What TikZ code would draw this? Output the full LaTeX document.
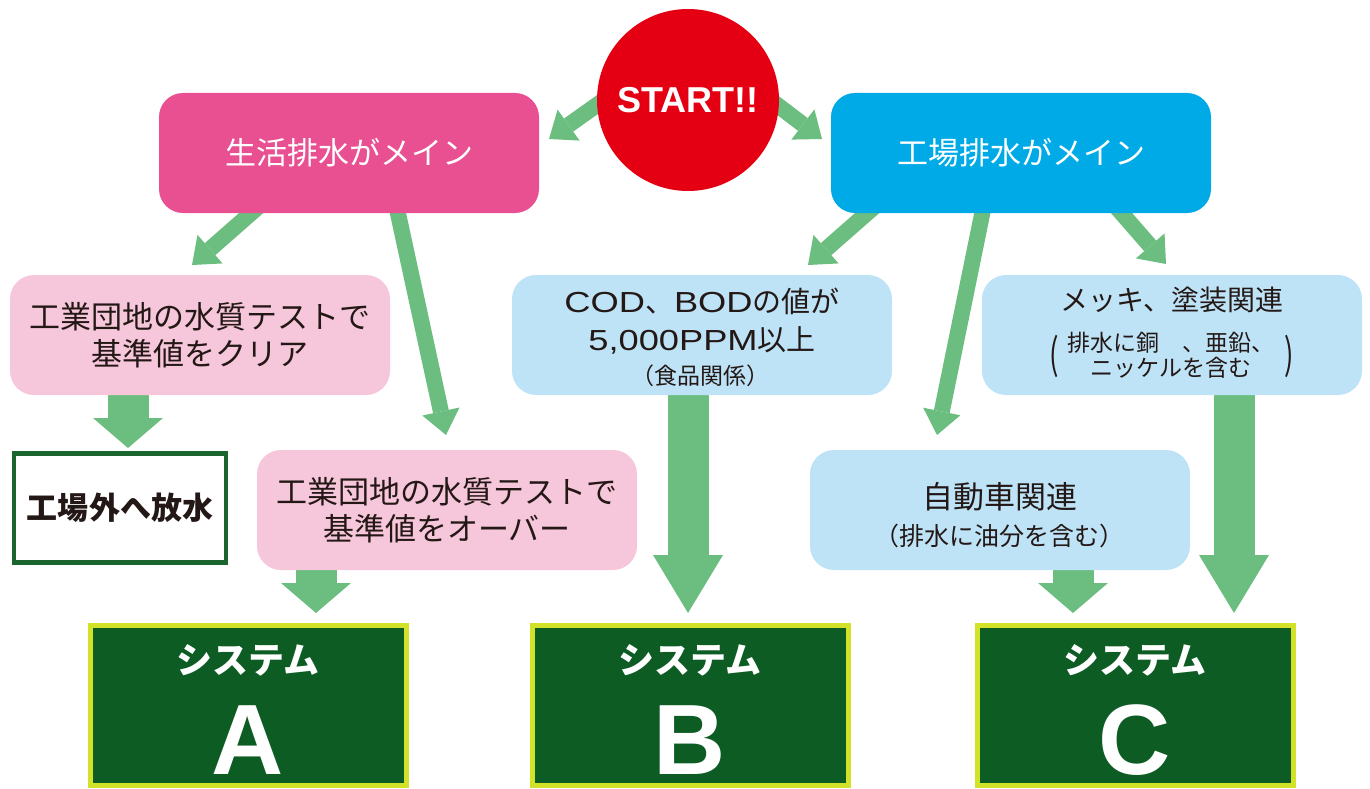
\documentclass[tikz,border=0pt]{standalone}
\usepackage{fontspec}
\setmainfont{Noto Sans CJK JP}
\newfontfamily\lsans{Liberation Sans}
\usetikzlibrary{arrows.meta}
\pgfdeclarelayer{bg}
\pgfsetlayers{bg,main}
\definecolor{agreen}{RGB}{108,190,128}
\definecolor{hpink}{RGB}{232,80,145}
\definecolor{hblue}{RGB}{0,170,231}
\definecolor{lpink}{RGB}{246,198,218}
\definecolor{lblue}{RGB}{190,227,247}
\definecolor{sred}{RGB}{228,0,18}
\definecolor{sysgreen}{RGB}{12,92,36}
\definecolor{syslime}{RGB}{210,226,40}
\definecolor{obord}{RGB}{26,100,45}
\definecolor{dtext}{RGB}{35,24,21}
\newcommand{\wlat}[1]{\scalebox{1.25}[1]{\lsans #1}}
\begin{document}
\begin{tikzpicture}[x=1pt,y=-1pt,
  hdr/.style={rounded corners=24pt, minimum width=380pt, minimum height=120pt, inner sep=0pt, text=white, font=\fontsize{31}{36}\selectfont},
  pbox/.style={rounded corners=24pt, minimum width=380pt, minimum height=120pt, inner sep=0pt, fill=lpink, text=dtext, align=center, font=\fontsize{31}{37}\selectfont},
  bbox/.style={rounded corners=24pt, minimum width=380pt, minimum height=120pt, inner sep=0pt, fill=lblue},
  btxt/.style={text=dtext, align=center, inner sep=0pt, font=\fontsize{29}{38}\selectfont},
  stxt/.style={text=dtext, align=center, inner sep=0pt, font=\fontsize{23}{25}\selectfont},
  paren/.style={text=dtext, inner sep=0pt, font=\fontsize{28}{30}\selectfont},
  sysbox/.style={fill=sysgreen, draw=syslime, line width=5pt, minimum width=316pt, minimum height=160pt, inner sep=0pt},
  systxt/.style={text=white, inner sep=0pt, font=\bfseries\fontsize{36}{40}\selectfont},
  sysletter/.style={text=white, inner sep=0pt, font=\lsans\bfseries\fontsize{100}{100}\selectfont},
  thinarr/.style={draw=agreen, line width=16pt, -{Triangle[width=38pt,length=24pt,line width=0pt]}},
  blockS/.style={draw=agreen, line width=41pt, -{Triangle[width=70pt,length=30pt,line width=0pt]}},
  blockL/.style={draw=agreen, line width=41pt, -{Triangle[width=70pt,length=58pt,line width=0pt]}}
]
\useasboundingbox (0,0) rectangle (1370,789);

% START
\node[circle, fill=sred, minimum size=182pt, inner sep=0pt, text=white, font=\lsans\bfseries\fontsize{36}{40}\selectfont] (start) at (688,100) {START!!};

% top boxes
\node[hdr, fill=hpink] (life) at (349,153) {生活排水がメイン};
\node[hdr, fill=hblue] (fact) at (1021,153) {工場排水がメイン};

% pink branch
\node[pbox] (p1) at (200,335) {工業団地の水質テストで\\基準値をクリア};
\node[pbox] (p2) at (447,510) {工業団地の水質テストで\\基準値をオーバー};
\node[draw=obord, line width=4.5pt, fill=white, minimum width=212pt, minimum height=109pt, inner sep=0pt, text=dtext, font=\bfseries\fontsize{31}{36}\selectfont] (out) at (120,508) {工場外へ放水};

% blue branch
\node[bbox] (b1) at (702,335) {};
\node[btxt] (b1t) at (702,321) {\wlat{COD}、\wlat{BOD}の値が\\\wlat{5,000PPM}以上};
\node[stxt] (b1s) at (700,376) {（食品関係）};

\node[bbox] (c1) at (1172,335) {};
\node[btxt, font=\fontsize{28}{34}\selectfont] (c1t) at (1172,300) {メッキ、塗装関連};
\node[stxt] (c1s) at (1171,355) {排水に銅　、亜鉛、\\ニッケルを含む};
\node[paren] (c1l) at (1054,356) {\scalebox{1}[1.5]{(}};
\node[paren] (c1r) at (1289,356) {\scalebox{1}[1.5]{)}};

\node[bbox] (c2) at (1000,510) {};
\node[btxt, font=\fontsize{31}{36}\selectfont] (c2t) at (1000,497) {自動車関連};
\node[stxt, font=\fontsize{25}{28}\selectfont] (c2s) at (999,536) {（排水に油分を含む）};

% system boxes
\node[sysbox] (sysA) at (248,705) {};
\node[sysbox] (sysB) at (690,705) {};
\node[sysbox] (sysC) at (1135,705) {};
\node[systxt] (sysAt) at ([yshift=45pt]sysA.center) {システム};
\node[systxt] (sysBt) at ([yshift=45pt]sysB.center) {システム};
\node[systxt] (sysCt) at ([yshift=45pt]sysC.center) {システム};
\node[sysletter] (sysAl) at ([yshift=-35pt]sysA.center) {A};
\node[sysletter] (sysBl) at ([yshift=-35pt]sysB.center) {B};
\node[sysletter] (sysCl) at ([yshift=-35pt]sysC.center) {C};

% arrows
\begin{pgfonlayer}{bg}
\coordinate (tS1) at (549,139);
\coordinate (tS2) at (822,139);
\coordinate (tP1) at (192,265);
\coordinate (tP2) at (446,435);
\coordinate (tB1) at (808,265);
\coordinate (tC2) at (937,435);
\coordinate (tC1) at (1166,264);
\coordinate (tOut) at (128,448);
\coordinate (tA) at (316,613);
\coordinate (tB) at (688,613);
\coordinate (tCa) at (1234,613);
\coordinate (tCb) at (1073,613);
\draw[thinarr] ([shift={(-63,-15)}]start.center) -- (tS1);
\draw[thinarr] ([shift={(63,-15)}]start.center) -- (tS2);
\draw[thinarr] ([shift={(-75,40)}]life.center) -- (tP1);
\draw[thinarr] ([shift={(45,42)}]life.center) -- (tP2);
\draw[thinarr] ([shift={(-131,40)}]fact.center) -- (tB1);
\draw[thinarr] ([shift={(-35,42)}]fact.center) -- (tC2);
\draw[thinarr] ([shift={(83,40)}]fact.center) -- (tC1);
\draw[blockS] ([shift={(-72,-5)}]p1.south) -- (tOut);
\draw[blockS] ([shift={(-131,-5)}]p2.south) -- (tA);
\draw[blockL] ([shift={(-14,-5)}]b1.south) -- (tB);
\draw[blockL] ([shift={(62,-5)}]c1.south) -- (tCa);
\draw[blockS] ([shift={(73,-5)}]c2.south) -- (tCb);
\end{pgfonlayer}
\end{tikzpicture}
\end{document}
